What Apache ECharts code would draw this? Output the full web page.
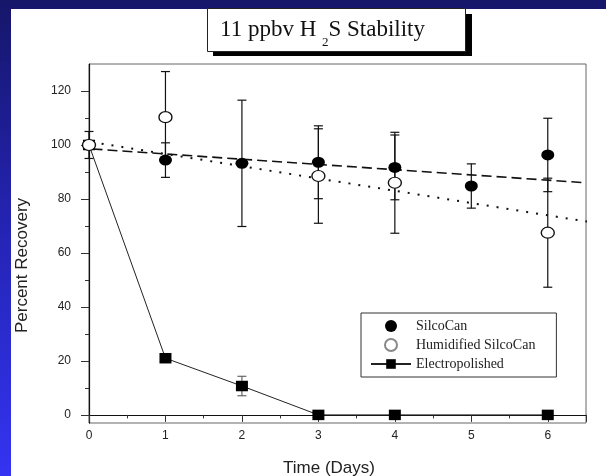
<!DOCTYPE html>
<html>
<head>
<meta charset="utf-8">
<script src="https://cdn.jsdelivr.net/npm/echarts@6/dist/echarts.min.js"></script>
<style>
  html, body { margin: 0; padding: 0; }
  body { width: 606px; height: 476px; overflow: hidden; position: relative;
         background: linear-gradient(to bottom, #16166a 0%, #2323b0 45%, #3434f2 100%); }
  #panel { position: absolute; left: 11px; top: 9px; width: 595px; height: 467px; background: #fff; }
  #chart { position: absolute; left: 0; top: 0; width: 606px; height: 476px; }
</style>
</head>
<body>
<div id="panel"></div>
<div id="chart"></div>
<script>
// values
var silcoDays = [0, 1, 2, 3, 4, 5, 6];
var silcoVals = [100, 94.4, 93.2, 93.6, 91.7, 84.8, 96.3];
var silcoErr = [5, 6.4, 23.4, 13.5, 12, 8.2, 13.6];

var humidDays = [0, 1, 3, 4, 6];
var humidVals = [100, 110.3, 88.5, 86, 67.5];
var humidErr = [0, 16.9, 17.5, 18.7, 20.2];

var electroDays = [0, 1, 2, 3, 4, 6];
var electroVals = [100, 21, 10.7, 0, 0, 0];
var electroErr = [0, 0, 3.6, 0, 0, 0];

// fitted trend lines (end points)
var silcoTrend = [[-0.15, 98.9], [6.5, 86.0]];
var humidTrend = [[-0.61, 104], [6.56, 71.4]];

var yMajor = [0, 20, 40, 60, 80, 100, 120];
var yMinor = [10, 30, 50, 70, 90, 110];
var legendNames = ['SilcoCan', 'Humidified SilcoCan', 'Electropolished'];

window.onload = function() {
    var myChart = echarts.init(document.getElementById('chart'));

    function pairs(xs, ys) {
        return xs.map(function(x, i) { return [x, ys[i]]; });
    }

    function errorBars(name, xs, ys, errs, color) {
        var data = [];
        xs.forEach(function(x, i) {
            if (errs[i] > 0) data.push([x, ys[i] - errs[i], ys[i] + errs[i]]);
        });
        return {
            name: name,
            type: 'custom',
            z: 1,
            silent: true,
            data: data,
            renderItem: function(params, api) {
                var lo = api.coord([api.value(0), api.value(1)]);
                var hi = api.coord([api.value(0), api.value(2)]);
                var w = 4.5;
                var st = { stroke: color, lineWidth: 1.2 };
                return {
                    type: 'group',
                    children: [
                        { type: 'line', shape: { x1: lo[0], y1: lo[1], x2: hi[0], y2: hi[1] }, style: st },
                        { type: 'line', shape: { x1: lo[0] - w, y1: lo[1], x2: lo[0] + w, y2: lo[1] }, style: st },
                        { type: 'line', shape: { x1: hi[0] - w, y1: hi[1], x2: hi[0] + w, y2: hi[1] }, style: st }
                    ]
                };
            }
        };
    }

    var option = {
        animation: false,
        // drop shadow behind the title box
        graphic: [{
            type: 'rect',
            left: 213,
            top: 14,
            z: -1,
            shape: { width: 259, height: 42 },
            style: { fill: '#000' }
        }],
        title: {
            text: '{a|11 ppbv H }{s|2}{a|S Stability}',
            left: 207,
            top: 16,
            padding: [2, 41, 2, 13],
            backgroundColor: '#fff',
            borderColor: '#222',
            borderWidth: 1,
            textStyle: {
                fontWeight: 'normal',
                rich: {
                    a: { fontFamily: 'Liberation Serif', fontSize: 23, fontWeight: 'normal', color: '#111', lineHeight: 24 },
                    s: { fontFamily: 'Liberation Serif', fontSize: 13, fontWeight: 'normal', color: '#111', lineHeight: 14, padding: [26, 0, 0, 0] }
                }
            }
        },
        legend: {
            data: [
                legendNames[0],
                { name: legendNames[1], itemStyle: { borderColor: '#888' } },
                legendNames[2]
            ],
            orient: 'vertical',
            left: 361,
            top: 313,
            padding: [6, 21, 6, 9],
            itemWidth: 40,
            itemHeight: 12,
            itemGap: 5,
            borderColor: '#333',
            borderWidth: 1,
            backgroundColor: '#fff',
            textStyle: { fontFamily: 'Liberation Serif', fontSize: 14, color: '#222', lineHeight: 12 }
        },
        grid: {
            left: 89,
            right: 20,
            top: 64,
            bottom: 53,
            outerBoundsMode: 'none',
            show: true,
            borderColor: '#666',
            borderWidth: 1
        },
        xAxis: {
            type: 'value',
            min: 0,
            max: 6.5,
            interval: 1,
            name: 'Time (Days)',
            nameLocation: 'middle',
            nameGap: 37,
            nameTextStyle: { fontFamily: 'Liberation Sans', fontSize: 17, color: '#222', padding: [0, 17, 0, 0] },
            axisLine: { lineStyle: { color: '#111', width: 1.2 } },
            axisTick: { length: 7, lineStyle: { color: '#333' } },
            minorTick: { show: true, splitNumber: 2, length: 3.5, lineStyle: { color: '#333' } },
            axisLabel: {
                margin: 7,
                fontFamily: 'Liberation Sans',
                fontSize: 12,
                color: '#222',
                formatter: function(v) { return v % 1 === 0 ? String(v) : ''; }
            },
            splitLine: { show: false }
        },
        yAxis: [{
            type: 'value',
            min: -3,
            max: 130,
            name: 'Percent Recovery',
            nameLocation: 'middle',
            nameGap: 58,
            nameTextStyle: { fontFamily: 'Liberation Sans', fontSize: 17, color: '#222', padding: [0, 44, 0, 0] },
            axisLine: { show: true, lineStyle: { color: '#111', width: 1.2 } },
            axisTick: { length: 8, customValues: yMajor, lineStyle: { color: '#333' } },
            axisLabel: { margin: 18, customValues: yMajor, fontFamily: 'Liberation Sans', fontSize: 12, color: '#222' },
            splitLine: { show: false }
        }, {
            type: 'value',
            position: 'left',
            min: -3,
            max: 130,
            axisLine: { show: false },
            axisTick: { show: true, length: 4, customValues: yMinor, lineStyle: { color: '#333' } },
            axisLabel: { show: false },
            splitLine: { show: false }
        }],
        series: [
            {
                name: 'silco trend',
                type: 'line',
                data: silcoTrend,
                clip: false,
                symbol: 'none',
                silent: true,
                z: 1,
                lineStyle: { color: '#111', width: 1.6, type: [10, 5] }
            },
            {
                name: 'humid trend',
                type: 'line',
                data: humidTrend,
                clip: false,
                symbol: 'none',
                silent: true,
                z: 1,
                lineStyle: { color: '#111', width: 2, type: [2, 8] }
            },
            errorBars('silco err', silcoDays, silcoVals, silcoErr, '#111'),
            errorBars('humid err', humidDays, humidVals, humidErr, '#111'),
            errorBars('electro err', electroDays, electroVals, electroErr, '#666'),
            {
                name: 'Electropolished',
                type: 'line',
                data: pairs(electroDays, electroVals),
                symbol: 'rect',
                symbolSize: [12, 10.5],
                z: 3,
                lineStyle: { color: '#222', width: 1 },
                itemStyle: { color: '#000' }
            },
            {
                name: 'SilcoCan',
                type: 'scatter',
                data: pairs(silcoDays, silcoVals),
                symbol: 'circle',
                symbolSize: [13, 11],
                z: 4,
                itemStyle: { color: '#000', opacity: 1 }
            },
            {
                name: 'Humidified SilcoCan',
                type: 'scatter',
                data: pairs(humidDays, humidVals),
                symbol: 'circle',
                symbolSize: [13, 11],
                z: 5,
                itemStyle: { color: '#fff', borderColor: '#111', borderWidth: 1.3, opacity: 1 }
            }
        ]
    };

    myChart.setOption(option);
};
</script>
</body>
</html>
